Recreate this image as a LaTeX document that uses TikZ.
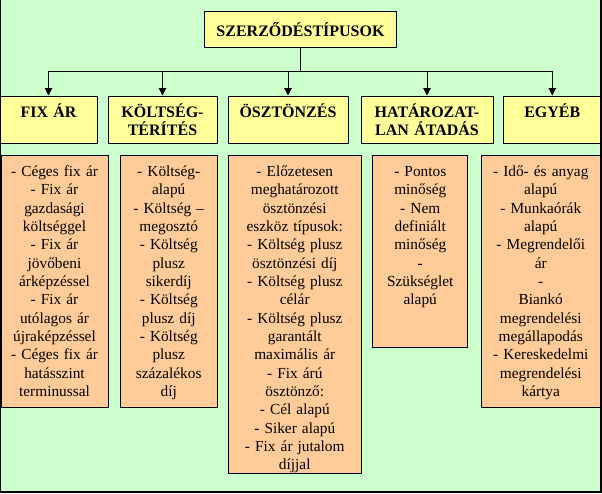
\documentclass[tikz,border=0pt]{standalone}
\usepackage{fontspec}
\setmainfont{Liberation Serif}
\usetikzlibrary{arrows.meta}
\definecolor{bggreen}{HTML}{CCFFCC}
\definecolor{headyellow}{HTML}{FFFF99}
\definecolor{listorange}{HTML}{FFCC99}
\begin{document}
\begin{tikzpicture}[x=0.75pt, y=-0.75pt, line width=0.75pt,
    head/.style={draw, fill=headyellow, font=\bfseries\fontsize{12}{13.75}\selectfont, align=center, anchor=north, inner xsep=1pt, inner ysep=3pt, text height=12.75pt, text depth=16.85pt},
    list/.style={draw, fill=listorange, font=\fontsize{11.5}{13.75}\selectfont, align=center, anchor=north, inner xsep=1pt, inner ysep=3pt, text height=12.75pt},
    tip/.style={-{Triangle[length=5.5pt,width=5.5pt]}}]
                \fill[bggreen] (0,0) rectangle (602,493);
                \useasboundingbox (0,0) rectangle (602,493);
                \draw[line width=1pt] (0.5,0) -- (0.5,492) -- (601,492) -- (601,0);

                \node[draw, fill=headyellow, font=\bfseries\fontsize{12}{13.75}\selectfont, minimum width=144.5pt, minimum height=26.7pt, inner sep=0pt] (T) at (300.5,29.5) {SZERZŐDÉSTÍPUSOK};
                \coordinate (bus) at (300.5,71);

                \node[head, text width=70.75pt] (F) at (48.5,95.5) {FIX ÁR};
                \node[head, text width=79.75pt] (K) at (162.5,95.5) {KÖLTSÉG-\\TÉRÍTÉS};
                \node[head, text width=88pt] (O) at (288,95.5) {ÖSZTÖNZÉS};
                \node[head, text width=97pt] (H) at (427,95.5) {HATÁROZAT-\\LAN ÁTADÁS};
                \node[head, text width=70.4pt] (E) at (552.25,95.5) {EGYÉB};

                \node[list, text width=78.25pt, text depth=170.25pt] (FL) at (54.5,155) {- Céges fix ár\\- Fix ár\\gazdasági\\költséggel\\- Fix ár\\jövőbeni\\árképzéssel\\- Fix ár\\utólagos ár\\újraképzéssel\\- Céges fix ár\\hatásszint\\terminussal};
                \node[list, text width=70.4pt, text depth=170.25pt] (KL) at (168.75,155) {- Költség-\\alapú\\- Költség –\\megosztó\\- Költség\\plusz\\sikerdíj\\- Költség\\plusz díj\\- Költség\\plusz\\százalékos\\díj};
                \node[list, text width=97.4pt, text depth=219.75pt] (OL) at (294.75,155) {- Előzetesen\\meghatározott\\ösztönzési\\eszköz típusok:\\- Költség plusz\\ösztönzési díj\\- Költség plusz\\célár\\- Költség plusz\\garantált\\maximális ár\\- Fix árú\\ösztönző:\\- Cél alapú\\- Siker alapú\\- Fix ár jutalom\\díjjal};
                \node[list, text width=69.6pt, text depth=125.25pt] (HL) at (420.25,155) {- Pontos\\minőség\\- Nem\\definiált\\minőség\\-\\Szükséglet\\alapú};
                \node[list, text width=87.6pt, text depth=170.25pt] (EL) at (540.75,155) {- Idő- és anyag\\alapú\\- Munkaórák\\alapú\\- Megrendelői\\ár\\-\\Biankó\\megrendelési\\megállapodás\\- Kereskedelmi\\megrendelési\\kártya};

                \draw (T) -- (bus);
                \draw[tip] (bus) -| (F);
                \draw[tip] (bus) -| (K);
                \draw[tip] (bus) -| (O);
                \draw[tip] (bus) -| (H);
                \draw[tip] (bus) -| (E);
            \end{tikzpicture}
\end{document}
